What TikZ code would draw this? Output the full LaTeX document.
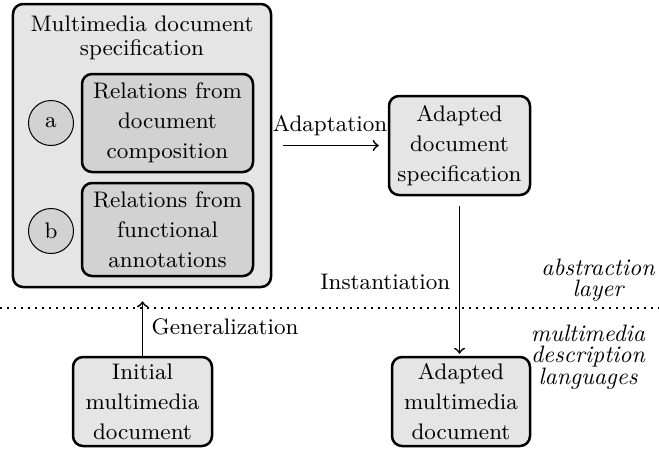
\documentclass[tikz,border=0pt]{standalone}
\usepackage{fontspec}
\begin{document}
\begin{tikzpicture}[x=0.4pt,y=-0.4pt,font={\fontsize{9}{12}\selectfont},
    box/.style={draw,line width=1pt,rounded corners=4pt,fill=gray!20,align=center,inner sep=0pt},
    relbox/.style={box,fill=gray!35},
    letter/.style={circle,draw,thin,fill=gray!35,minimum size=18pt,inner sep=0pt},
    arr/.style={->,line width=0.7pt},
    layer/.style={align=center,font={\itshape\fontsize{9.5}{8.6}\selectfont}}]
      \useasboundingbox (0,0) rectangle (659,448);
      \node[box,minimum width=103.2pt,minimum height=113.2pt] (spec) at (142,145.5) {};
      \node[align=center,font={\fontsize{9}{9.4}\selectfont}] (title) at (142,38) {Multimedia document\\specification};
      \node[relbox,minimum width=68.4pt,minimum height=39.2pt] (comp) at (167.5,123) {Relations from\\document\\composition};
      \node[relbox,minimum width=68.4pt,minimum height=37.2pt] (func) at (167.5,229.5) {Relations from\\functional\\annotations};
      \node[letter] (a) at (51,123) {a};
      \node[letter] (b) at (51,231) {b};
      \node[box,minimum width=56.4pt,minimum height=39.6pt] (adspec) at (459.5,145.5) {Adapted\\document\\specification};
      \node[box,minimum width=55.6pt,minimum height=35.6pt] (init) at (142.5,401.5) {Initial\\multimedia\\document};
      \node[box,minimum width=55.2pt,minimum height=35.6pt] (admm) at (461,401.5) {Adapted\\multimedia\\document};
      \node[layer] (abs) at (598,280) {abstraction\\layer};
      \node[layer] (lang) at (588,357) {multimedia\\description\\languages};
      \draw[dotted,line width=0.7pt,dash pattern=on 0.7pt off 2.1pt] (0,308) -- (659,308);
      \begin{scope}[arr]
        \draw[shorten <=4.4pt,shorten >=3.6pt] (spec) -- node[above]{Adaptation} (adspec);
        \draw[shorten <=4pt,shorten >=0.8pt] (adspec.south) -- node[pos=0.54,left]{Instantiation} (adspec.south |- admm.north);
        \draw[shorten >=5.2pt] (init.north) -- node[pos=0.43,right]{Generalization} (init.north |- spec.south);
      \end{scope}
    \end{tikzpicture}
\end{document}
